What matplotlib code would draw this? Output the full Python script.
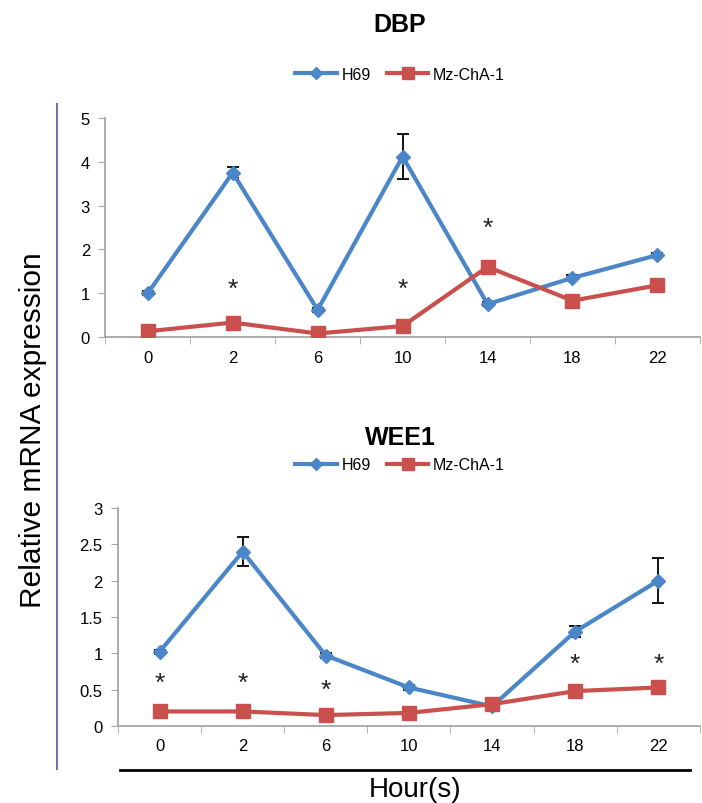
import matplotlib
matplotlib.use("Agg")
import matplotlib.pyplot as plt
from matplotlib.lines import Line2D

plt.rcParams['font.family'] = ['Liberation Sans', 'DejaVu Sans']

hours = ["0", "2", "6", "10", "14", "18", "22"]

dbp_h69 = [1.0, 3.75, 0.62, 4.12, 0.75, 1.35, 1.87]
dbp_h69_err = [0.05, 0.12, 0.05, 0.52, 0.05, 0.06, 0.05]
dbp_mz = [0.13, 0.33, 0.08, 0.25, 1.60, 0.83, 1.18]
dbp_mz_err = [0.03, 0.04, 0.03, 0.04, 0.06, 0.05, 0.05]
dbp_star_pos = [1, 3, 4]
dbp_star_y = [1.1, 1.1, 2.5]

wee1_h69 = [1.02, 2.40, 0.97, 0.53, 0.27, 1.30, 2.00]
wee1_h69_err = [0.03, 0.20, 0.03, 0.03, 0.03, 0.07, 0.31]
wee1_mz = [0.20, 0.20, 0.15, 0.18, 0.30, 0.48, 0.53]
wee1_mz_err = [0.02, 0.02, 0.02, 0.02, 0.03, 0.03, 0.03]
wee1_star_pos = [0, 1, 2, 5, 6]
wee1_star_y = [0.6, 0.6, 0.5, 0.85, 0.85]

BLUE = "#4A86C8"
RED = "#C9504D"
GRAY = "#A6A6A6"


def panel(ax, title, h69, h69_err, mz, mz_err, ymax, yticks, ylabels, star_pos, star_y, title_y, legend_y):
    x = list(range(len(hours)))
    ax.errorbar(x, h69, yerr=h69_err, color=BLUE, lw=3, marker="D", ms=7,
                mec=BLUE, mfc=BLUE, ecolor="black", elinewidth=1.3, capsize=4,
                capthick=1.3, zorder=3)
    ax.errorbar(x, mz, yerr=mz_err, color=RED, lw=3, marker="s", ms=10,
                mec=RED, mfc=RED, ecolor="black", elinewidth=1.3, capsize=4,
                capthick=1.3, zorder=4)
    for p, yy in zip(star_pos, star_y):
        ax.text(p, yy, "*", ha="center", va="center", fontsize=19, color="#222222")
    ax.set_xlim(-0.5, len(hours) - 0.5)
    ax.set_ylim(0, ymax)
    ax.set_yticks(yticks)
    ax.set_yticklabels(ylabels, fontsize=12)
    ax.set_xticks(x)
    ax.set_xticklabels(hours, fontsize=12)
    ax.tick_params(axis="x", which="major", length=0, pad=9)
    ax.set_xticks([i - 0.5 for i in range(len(hours) + 1)], minor=True)
    ax.tick_params(axis="x", which="minor", length=5, color=GRAY, direction="out")
    ax.tick_params(axis="y", length=5, color=GRAY, direction="out", pad=6)
    for s in ["top", "right"]:
        ax.spines[s].set_visible(False)
    for s in ["left", "bottom"]:
        ax.spines[s].set_color(GRAY)
        ax.spines[s].set_linewidth(1.3)
    fig.text(0.57, title_y, title, ha="center", va="center", fontsize=18, fontweight="bold")
    handles = [Line2D([], [], color=BLUE, lw=3, marker="D", ms=6),
               Line2D([], [], color=RED, lw=3, marker="s", ms=8)]
    fig.legend(handles, ["H69", "Mz-ChA-1"], loc="center", bbox_to_anchor=(0.57, legend_y),
               ncol=2, frameon=False, fontsize=11.5, handlelength=2.6, columnspacing=1.0,
               handletextpad=0.3)


fig = plt.figure(figsize=(7.02, 8.04), dpi=100)
ax1 = fig.add_axes([0.150, 0.5796, 0.847, 0.2724])
ax2 = fig.add_axes([0.168, 0.0958, 0.829, 0.2711])

panel(ax1, "DBP", dbp_h69, dbp_h69_err, dbp_mz, dbp_mz_err, 5,
      [0, 1, 2, 3, 4, 5], ["0", "1", "2", "3", "4", "5"],
      dbp_star_pos, dbp_star_y, 1 - 25 / 804, 1 - 75 / 804)
panel(ax2, "WEE1", wee1_h69, wee1_h69_err, wee1_mz, wee1_mz_err, 3,
      [0, 0.5, 1, 1.5, 2, 2.5, 3], ["0", "0.5", "1", "1.5", "2", "2.5", "3"],
      wee1_star_pos, wee1_star_y, 1 - 438 / 804, 1 - 466 / 804)

# shared axis labels and rules
fig.add_artist(Line2D([57 / 702, 57 / 702], [1 - 105 / 804, 1 - 770 / 804],
                      color="#7F6F9F", lw=1.5))
fig.add_artist(Line2D([120 / 702, 690 / 702], [1 - 771 / 804, 1 - 771 / 804],
                      color="black", lw=2))
fig.text(33 / 702, 1 - 430 / 804, "Relative mRNA expression", rotation=90,
         ha="center", va="center", fontsize=21.5)
fig.text(415 / 702, 1 - 790 / 804, "Hour(s)", ha="center", va="center", fontsize=20)

fig.savefig("out.png", dpi=100)
